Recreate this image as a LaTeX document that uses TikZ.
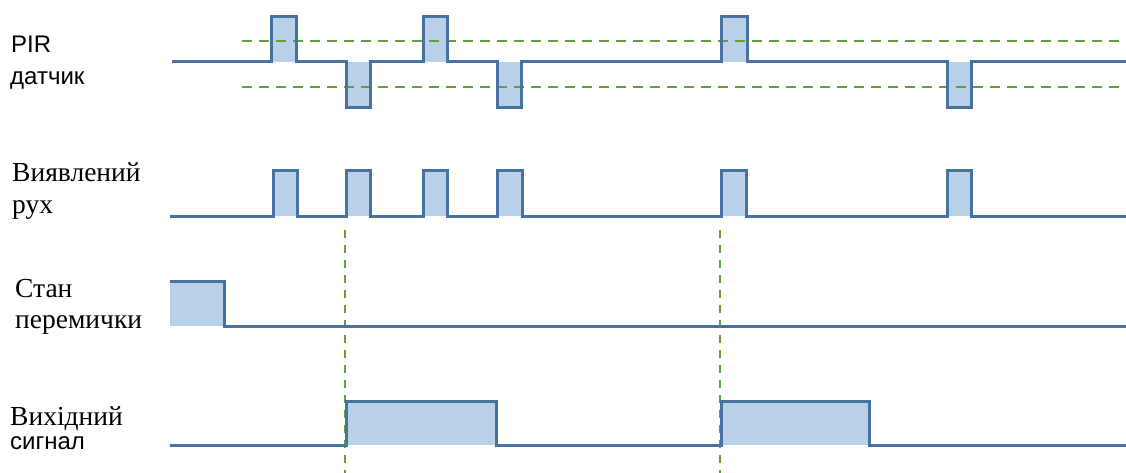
\documentclass[tikz,border=0pt]{standalone}
\usepackage{fontspec}
\setmainfont{Liberation Serif}
\newfontfamily\sansf{Liberation Sans}
\definecolor{wavecol}{HTML}{4872A0}
\definecolor{wavefill}{HTML}{B8D0E8}
\definecolor{guidecol}{HTML}{64A03A}
\begin{document}
\begin{tikzpicture}[x=1pt,y=-1pt,
  wave/.style={draw=wavecol,line width=3pt,line join=miter},
  pulsefill/.style={fill=wavefill,draw=none},
  hguide/.style={draw=guidecol,line width=2.6pt,dash pattern=on 10pt off 7pt},
  vguide/.style={draw=guidecol,line width=2.4pt,dash pattern=on 8pt off 7pt},
  seriflabel/.style={anchor=base west,inner sep=0pt,font=\fontsize{27.5}{30}\selectfont},
  sanslabel/.style={anchor=base west,inner sep=0pt,font=\sansf\fontsize{24}{28}\selectfont}]
\useasboundingbox (0,0) rectangle (1126,473);

% ---- fills ----
% PIR sensor
\fill[pulsefill] (271,17) rectangle (296,62);
\fill[pulsefill] (423,17) rectangle (447,62);
\fill[pulsefill] (721,17) rectangle (747,62);
\fill[pulsefill] (346,62) rectangle (370,108);
\fill[pulsefill] (497,62) rectangle (521,108);
\fill[pulsefill] (947,62) rectangle (971,108);
% detected motion
\foreach \a/\b in {273/297,346/370,423/447,497/522,721/746,947/971}
  \fill[pulsefill] (\a,171) rectangle (\b,216);
% jumper state
\fill[pulsefill] (170,281) rectangle (224,326);
% output
\fill[pulsefill] (346,401) rectangle (496,445);
\fill[pulsefill] (721,401) rectangle (869,445);

% ---- guides ----
\coordinate (thrHiA) at (242,41);
\coordinate (thrHiB) at (1126,41);
\coordinate (thrLoA) at (242,87);
\coordinate (thrLoB) at (1126,87);
\draw[hguide] (thrHiA) -- (thrHiB);
\draw[hguide] (thrLoA) -- (thrLoB);
\coordinate (v1top) at (345,230);
\coordinate (v1bot) at (345,473);
\coordinate (v2top) at (720,230);
\coordinate (v2bot) at (720,473);
\draw[vguide] (v1top) -- (v1bot);
\draw[vguide] (v2top) -- (v2bot);

% ---- waveforms ----
\draw[wave] (172,62) -- (271,62) -- (271,17) -- (296,17) -- (296,62)
  -- (346,62) -- (346,108) -- (370,108) -- (370,62)
  -- (423,62) -- (423,17) -- (447,17) -- (447,62)
  -- (497,62) -- (497,108) -- (521,108) -- (521,62)
  -- (721,62) -- (721,17) -- (747,17) -- (747,62)
  -- (947,62) -- (947,108) -- (971,108) -- (971,62) -- (1126,62);

\draw[wave] (170,216) -- (273,216) -- (273,171) -- (297,171) -- (297,216)
  -- (346,216) -- (346,171) -- (370,171) -- (370,216)
  -- (423,216) -- (423,171) -- (447,171) -- (447,216)
  -- (497,216) -- (497,171) -- (522,171) -- (522,216)
  -- (721,216) -- (721,171) -- (746,171) -- (746,216)
  -- (947,216) -- (947,171) -- (971,171) -- (971,216) -- (1126,216);

\draw[wave] (170,281) -- (224,281) -- (224,326) -- (1126,326);

\draw[wave] (170,445) -- (346,445) -- (346,401) -- (496,401) -- (496,445)
  -- (721,445) -- (721,401) -- (869,401) -- (869,445) -- (1126,445);

% ---- labels ----
\node[sanslabel] (pir1) at (11,53) {PIR};
\node[sanslabel] (pir2) at (10,85) {датчик};
\node[seriflabel] (mot1) at (12,182) {Виявлений};
\node[seriflabel] (mot2) at (12,213) {рух};
\node[seriflabel] (jmp1) at (15,297) {Стан};
\node[seriflabel] (jmp2) at (15,328) {перемички};
\node[seriflabel] (out1) at (10,425) {Вихідний};
\node[sanslabel] (out2) at (10,449) {сигнал};
\end{tikzpicture}
\end{document}
